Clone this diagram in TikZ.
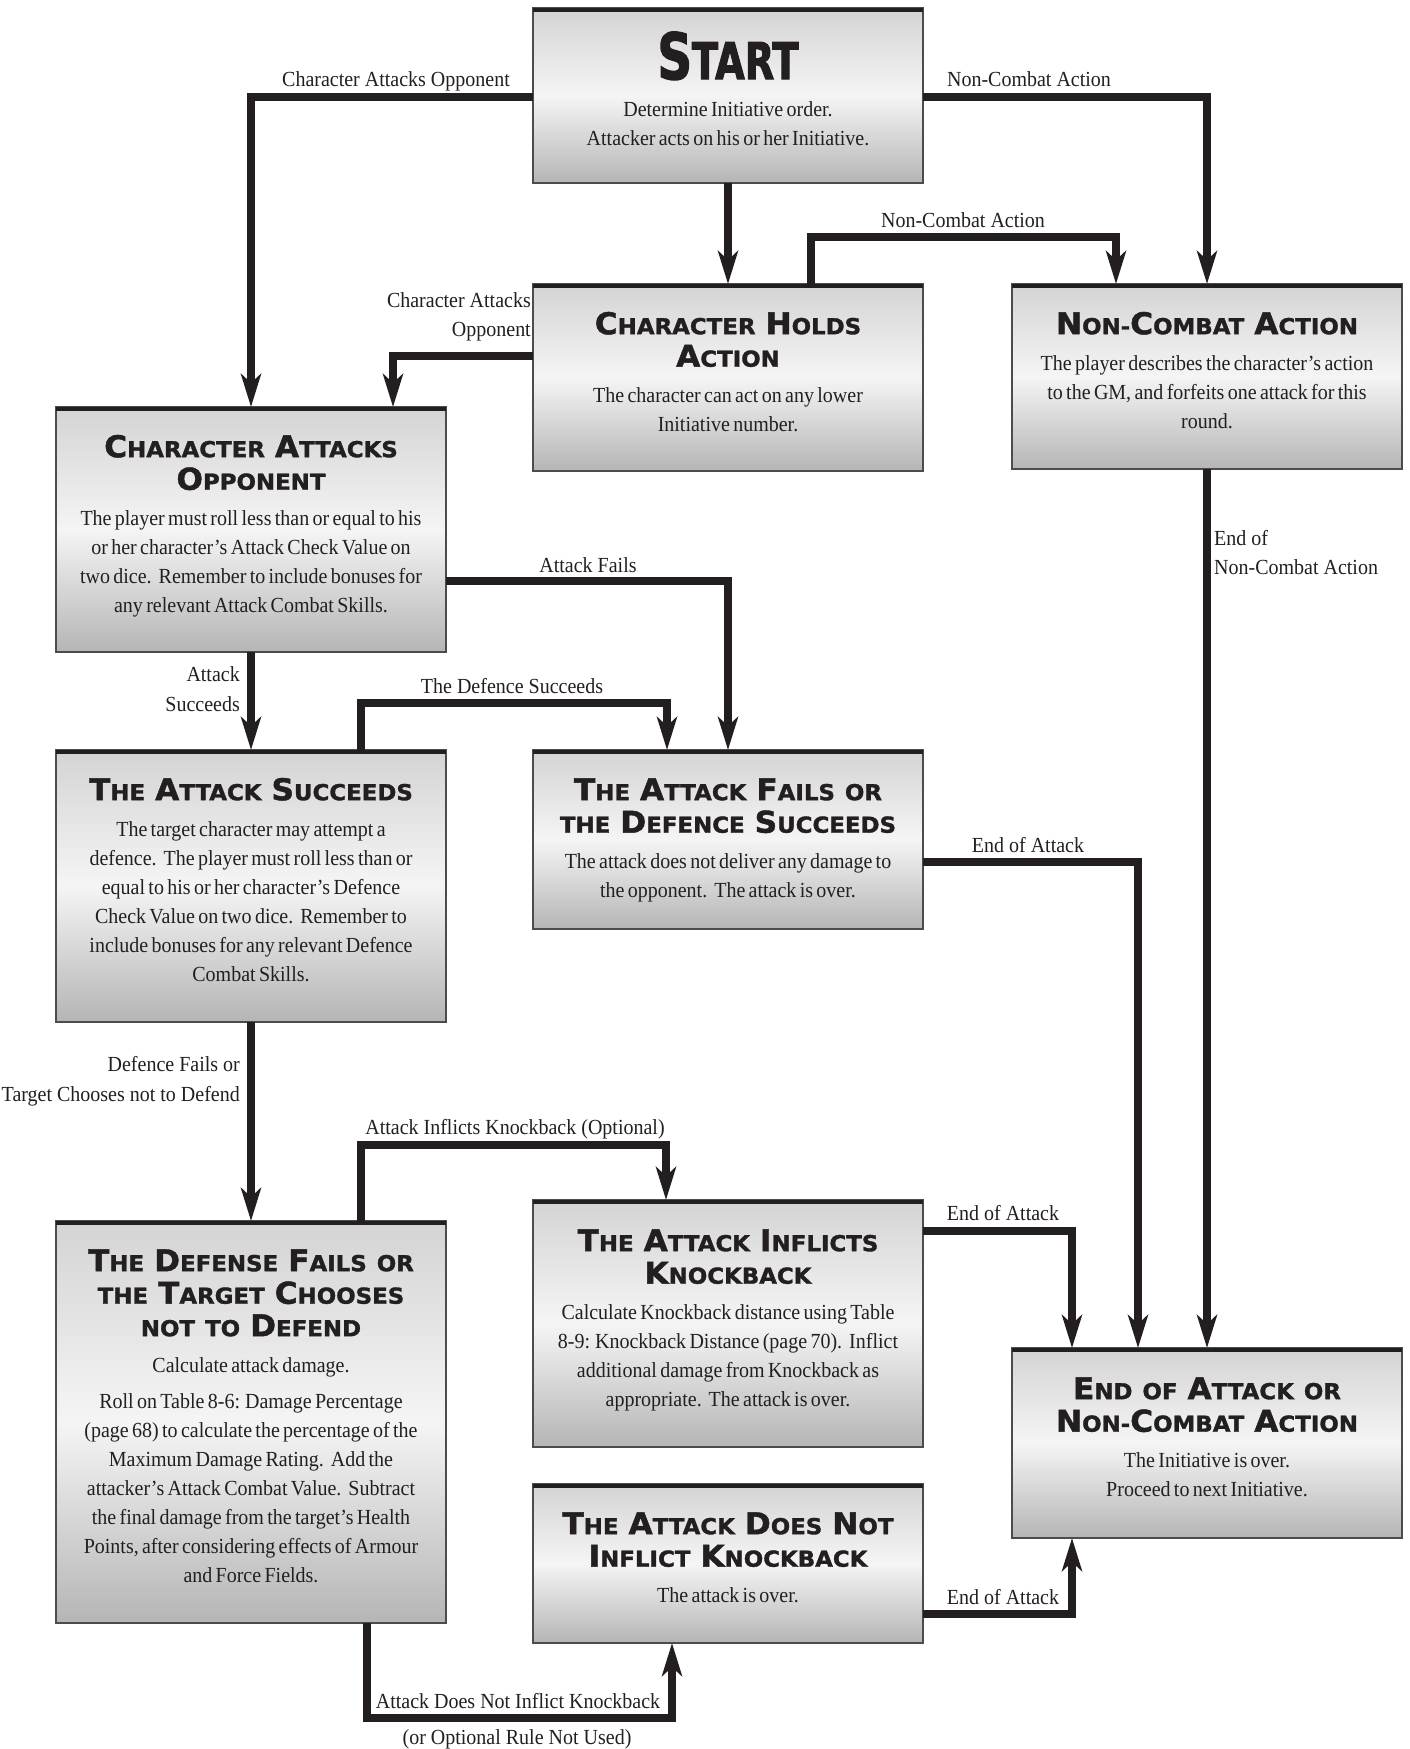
\documentclass[tikz,border=0pt]{standalone}
\usepackage{fontspec}
\usetikzlibrary{arrows.meta}
\setmainfont{Liberation Serif}
\newfontfamily\bfontfam{Liberation Serif}[FakeStretch=0.93]
\newfontfamily\tfontfam{DejaVu Sans}[FakeStretch=1.04, BoldFeatures={FakeBold=1.5}]
\newfontfamily\sfontfam{DejaVu Sans}[FakeStretch=0.75, BoldFeatures={FakeBold=2}]
\definecolor{ink}{HTML}{231F20}
\setlength\parindent{0pt}
\newcommand\bodyf{\bfontfam\fontsize{21.5pt}{29pt}\selectfont}
\newcommand\titlef{\tfontfam\bfseries\fontsize{22pt}{32.5pt}\selectfont}
\newcommand\Bc[1]{{\fontsize{30pt}{32.5pt}\selectfont #1}}
\newcommand\ws{\hspace{10pt}}
\newcommand\ds{\hspace{7pt}}
\newcommand\boxtext[2]{{\titlef\rule{0pt}{30pt}#1\par}\vspace{7pt}{\bodyf #2\par}}
\tikzset{
  boxst/.style={draw=black!70, line width=1.6pt, top color=black!17, bottom color=black!29,
    middle color=black!4, minimum width=390pt, inner sep=0pt, outer sep=0pt},
  topbar/.style={draw=ink, line width=4.4pt},
  txt/.style={inner sep=0pt, text width=386pt, align=center, anchor=north, text=ink},
  lab/.style={inner sep=0pt, anchor=base, font=\bodyf, text=ink},
  conn/.style={draw=ink, line width=8pt, line join=miter,
    -{Stealth[length=33pt,width=20pt,inset=9pt]}}
}
\newcommand\mkbox[4]{%
  \node[boxst, minimum height=#4pt, anchor=north west] (#1) at (#2,#3) {};
  \draw[topbar] ([yshift=-2.2pt]#1.north west) -- ([yshift=-2.2pt]#1.north east);}
\begin{document}
\begin{tikzpicture}[x=1pt,y=-1pt]
\fill[white] (0,0) rectangle (1409,1749);
\useasboundingbox (0,0) rectangle (1409,1749);

% boxes
\mkbox{start}{533}{8}{175}
\mkbox{cha}{533}{284}{187}
\mkbox{nca}{1012}{284}{185}
\mkbox{cao}{56}{407}{245}
\mkbox{as}{56}{750}{272}
\mkbox{afds}{533}{750}{179}
\mkbox{df}{56}{1221}{402}
\mkbox{aik}{533}{1200}{247}
\mkbox{adnik}{533}{1484}{159}
\mkbox{eoa}{1012}{1348}{190}

% box texts
\node[txt] (tstart) at (728,29) {{\sfontfam\bfseries\fontsize{51pt}{29pt}\selectfont\rule{0pt}{50pt}{\fontsize{64pt}{29pt}\selectfont S}TART\par}\vspace{8pt}{\bodyf Determine Initiative order.\\Attacker acts on his or her Initiative.\par}};
\node[txt] (tcha) at (728,304) {\boxtext{\Bc{C}HARACTER\ws\Bc{H}OLDS\\\Bc{A}CTION}{The character can act on any lower\\Initiative number.}};
\node[txt] (tnca) at (1207,304) {\boxtext{\Bc{N}ON-\Bc{C}OMBAT\ws\Bc{A}CTION}{The player describes the character’s action\\to the GM, and forfeits one attack for this\\round.}};
\node[txt] (tcao) at (251,427) {\boxtext{\Bc{C}HARACTER\ws\Bc{A}TTACKS\\\Bc{O}PPONENT}{The player must roll less than or equal to his\\or her character’s Attack Check Value on\\two dice.\ds Remember to include bonuses for\\any relevant Attack Combat Skills.}};
\node[txt] (tas) at (251,770) {\boxtext{\Bc{T}HE\ws\Bc{A}TTACK\ws\Bc{S}UCCEEDS}{The target character may attempt a\\defence.\ds The player must roll less than or\\equal to his or her character’s Defence\\Check Value on two dice.\ds Remember to\\include bonuses for any relevant Defence\\Combat Skills.}};
\node[txt] (tafds) at (728,770) {\boxtext{\Bc{T}HE\ws\Bc{A}TTACK\ws\Bc{F}AILS\ws OR\\THE\ws\Bc{D}EFENCE\ws\Bc{S}UCCEEDS}{The attack does not deliver any damage to\\the opponent.\ds The attack is over.}};
\node[txt] (tdf) at (251,1241) {\boxtext{\Bc{T}HE\ws\Bc{D}EFENSE\ws\Bc{F}AILS\ws OR\\THE\ws\Bc{T}ARGET\ws\Bc{C}HOOSES\\NOT\ws TO\ws\Bc{D}EFEND}{Calculate attack damage.\par\vspace{7pt}Roll on Table 8-6: Damage Percentage\\(page 68) to calculate the percentage of the\\Maximum Damage Rating.\ds Add the\\attacker’s Attack Combat Value.\ds Subtract\\the final damage from the target’s Health\\Points, after considering effects of Armour\\and Force Fields.}};
\node[txt] (taik) at (728,1221) {\boxtext{\Bc{T}HE\ws\Bc{A}TTACK\ws\Bc{I}NFLICTS\\\Bc{K}NOCKBACK}{Calculate Knockback distance using Table\\8-9: Knockback Distance (page 70).\ds Inflict\\additional damage from Knockback as\\appropriate.\ds The attack is over.}};
\node[txt] (tadnik) at (728,1504) {\boxtext{\Bc{T}HE\ws\Bc{A}TTACK\ws\Bc{D}OES\ws\Bc{N}OT\\\Bc{I}NFLICT\ws\Bc{K}NOCKBACK}{The attack is over.}};
\node[txt] (teoa) at (1207,1369) {\boxtext{\Bc{E}ND\ws OF\ws\Bc{A}TTACK\ws OR\\\Bc{N}ON-\Bc{C}OMBAT\ws\Bc{A}CTION}{The Initiative is over.\\Proceed to next Initiative.}};

% connectors
\draw[conn] (start.west |- 0,97) -| (251,0 |- cao.north);
\draw[conn] (start.east |- 0,97) -| (nca.north);
\draw[conn] (start.south) -- (cha.north);
\draw[conn] (811,0 |- cha.north) -- (811,237) -- (1116,237) -- (1116,0 |- nca.north);
\draw[conn] (cha.west |- 0,356) -| (393,0 |- cao.north);
\draw[conn] (nca.south) -- (eoa.north);
\draw[conn] (cao.east |- 0,581) -| (afds.north);
\draw[conn] (cao.south) -- (as.north);
\draw[conn] (361,0 |- as.north) -- (361,703) -- (667,703) -- (667,0 |- afds.north);
\draw[conn] (afds.east |- 0,862) -| (1138,0 |- eoa.north);
\draw[conn] (as.south) -- (df.north);
\draw[conn] (361,0 |- df.north) -- (361,1145) -- (666,1145) -- (666,0 |- aik.north);
\draw[conn] (aik.east |- 0,1231) -| (1072,0 |- eoa.north);
\draw[conn] (367,0 |- df.south) -- (367,1718) -- (672,1718) -- (672,0 |- adnik.south);
\draw[conn] (adnik.east |- 0,1614) -| (1072,0 |- eoa.south);

% connector labels
\node[lab] (l1) at (396,86) {Character Attacks Opponent};
\node[lab] (l2) at (1029,86) {Non-Combat Action};
\node[lab] (l3) at (963,227) {Non-Combat Action};
\node[lab, anchor=base east] (l4a) at (531,307) {Character Attacks};
\node[lab, anchor=base east] (l4b) at (531,336) {Opponent};
\node[lab, anchor=base west] (l5a) at (1214,545) {End of};
\node[lab, anchor=base west] (l5b) at (1214,574) {Non-Combat Action};
\node[lab] (l6) at (588,572) {Attack Fails};
\node[lab, anchor=base east] (l7a) at (240,681) {Attack};
\node[lab, anchor=base east] (l7b) at (240,711) {Succeeds};
\node[lab] (l8) at (512,693) {The Defence Succeeds};
\node[lab] (l9) at (1028,852) {End of Attack};
\node[lab, anchor=base east] (l10a) at (240,1071) {Defence Fails or};
\node[lab, anchor=base east] (l10b) at (240,1101) {Target Chooses not to Defend};
\node[lab] (l11) at (515,1134) {Attack Inflicts Knockback (Optional)};
\node[lab] (l12) at (1003,1220) {End of Attack};
\node[lab] (l13) at (518,1708) {Attack Does Not Inflict Knockback};
\node[lab] (l14) at (517,1744) {(or Optional Rule Not Used)};
\node[lab] (l15) at (1003,1604) {End of Attack};
\end{tikzpicture}
\end{document}
